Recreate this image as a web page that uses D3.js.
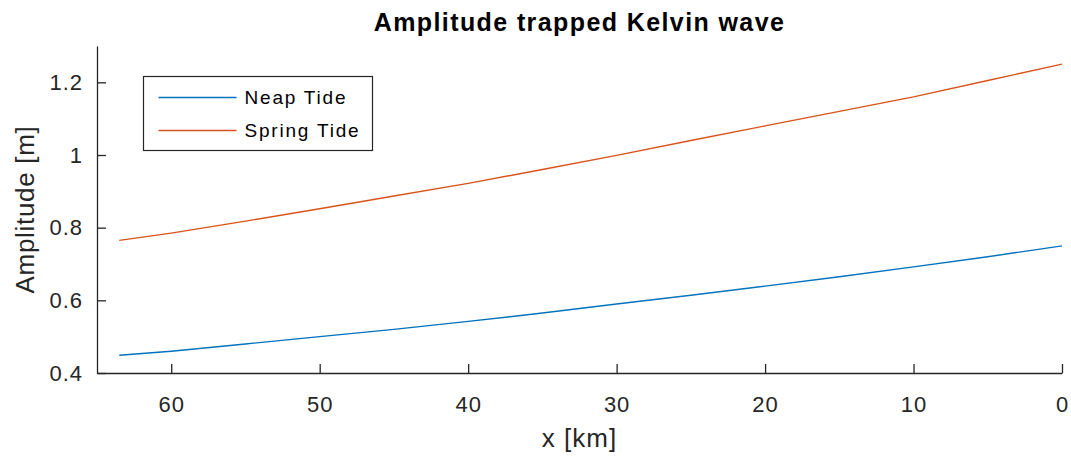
<!DOCTYPE html>
<html>
<head>
<meta charset="utf-8">
<script src="https://cdn.jsdelivr.net/npm/d3@7"></script>
<style>
  body { margin: 0; background: #fff; }
  svg { font-family: "Liberation Sans", Arial, sans-serif; }
</style>
</head>
<body>
<svg width="1071" height="460"></svg>
<script>
// distance along the coast [km] and amplitudes [m]
const distance = [63.5, 60, 55, 50, 45, 40, 35, 30, 25, 20, 15, 10, 5, 0];
const neapTide = [0.449, 0.46, 0.48, 0.50, 0.52, 0.542, 0.565, 0.59, 0.614, 0.639, 0.665, 0.692, 0.72, 0.75];
const springTide = [0.765, 0.785, 0.818, 0.852, 0.887, 0.922, 0.96, 0.999, 1.04, 1.08, 1.12, 1.16, 1.205, 1.25];
const seriesNames = ["Neap Tide", "Spring Tide"];
const xTicks = [60, 50, 40, 30, 20, 10, 0];
const yTicks = [0.4, 0.6, 0.8, 1, 1.2];

const svg = d3.select("svg"),
    margin = {top: 46, right: 9, bottom: 87, left: 97},
    width = +svg.attr("width") - margin.left - margin.right,
    height = +svg.attr("height") - margin.top - margin.bottom;

const colors = ["#0072BD", "#D95319"];
const axisColor = "#262626";

const x = d3.scaleLinear().domain([65, 0]).range([0, width]);
const y = d3.scaleLinear().domain([0.4, 1.3]).range([height, 0]);

const g = svg.append("g")
    .attr("transform", `translate(${margin.left},${margin.top})`);

// x axis (ticks point inward)
const xAxis = g.append("g")
    .attr("transform", `translate(0,${height})`)
    .call(d3.axisBottom(x).tickValues(xTicks).tickFormat(d3.format("d")).tickSize(-9).tickPadding(23).tickSizeOuter(0));

// y axis
const yAxis = g.append("g")
    .call(d3.axisLeft(y).tickValues(yTicks).tickFormat(d => d === 1 ? "1" : d.toFixed(1)).tickSize(-9).tickPadding(14).tickSizeOuter(0));

[xAxis, yAxis].forEach(ax => {
    ax.select(".domain").attr("stroke", axisColor).attr("stroke-width", 1.3);
    ax.selectAll(".tick line").attr("stroke", axisColor).attr("stroke-width", 1.3);
    ax.selectAll(".tick text")
        .attr("fill", axisColor)
        .style("font-size", "22px")
        .style("letter-spacing", "1px");
});

// axis titles
g.append("text")
    .attr("x", width / 2)
    .attr("y", height + 74)
    .attr("text-anchor", "middle")
    .attr("fill", axisColor)
    .style("font-size", "26px")
    .style("letter-spacing", "1px")
    .text("x [km]");

g.append("text")
    .attr("transform", "rotate(-90)")
    .attr("x", -height / 2)
    .attr("y", -63)
    .attr("text-anchor", "middle")
    .attr("fill", axisColor)
    .style("font-size", "26px")
    .style("letter-spacing", "0.7px")
    .text("Amplitude [m]");

// title
svg.append("text")
    .attr("x", margin.left + width / 2)
    .attr("y", 31)
    .attr("text-anchor", "middle")
    .attr("fill", "#000")
    .style("font-size", "25px")
    .style("font-weight", "bold")
    .style("letter-spacing", "1.4px")
    .text("Amplitude trapped Kelvin wave");

// lines
const line = d3.line()
    .x(d => x(d[0]))
    .y(d => y(d[1]));

[neapTide, springTide].forEach((vals, i) => {
    g.append("path")
        .datum(distance.map((dist, j) => [dist, vals[j]]))
        .attr("fill", "none")
        .attr("stroke", colors[i])
        .attr("stroke-width", 1.4)
        .attr("d", line);
});

// legend
const legend = svg.append("g").attr("transform", "translate(143.5,76.5)");
legend.append("rect")
    .attr("width", 229)
    .attr("height", 74)
    .attr("fill", "#fff")
    .attr("stroke", axisColor)
    .attr("stroke-width", 1.2);

seriesNames.forEach((name, i) => {
    const yy = 21 + i * 33;
    legend.append("line")
        .attr("x1", 15).attr("x2", 93)
        .attr("y1", yy).attr("y2", yy)
        .attr("stroke", colors[i])
        .attr("stroke-width", 1.4);
    legend.append("text")
        .attr("x", 101)
        .attr("y", yy)
        .attr("dy", "0.35em")
        .attr("fill", "#000")
        .style("font-size", "19px")
        .style("letter-spacing", "1.8px")
        .text(name);
});
</script>
</body>
</html>
